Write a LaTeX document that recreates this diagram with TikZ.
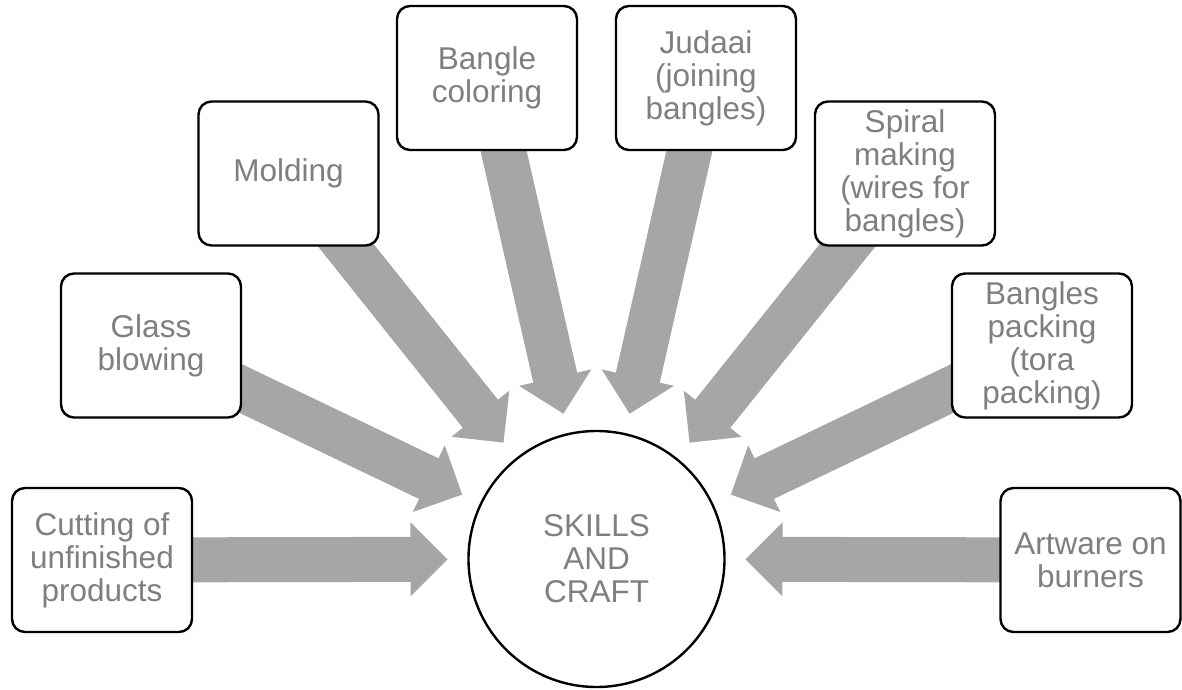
\documentclass[tikz,border=0pt]{standalone}
\usepackage{fontspec}
\setmainfont{Liberation Sans}
\usetikzlibrary{calc,backgrounds}
\definecolor{labelgray}{HTML}{7F7F7F}
\definecolor{arrowgray}{HTML}{A6A6A6}
\tikzset{
  craftbox/.style={draw=black, line width=2.4pt, fill=white, rounded corners=13pt,
    minimum width=180pt, minimum height=144pt, align=center, inner sep=0pt,
    text=labelgray, font=\fontsize{31.5}{33}\selectfont},
  hubcircle/.style={draw=black, line width=2.4pt, fill=white, circle,
    minimum size=256pt, align=center, inner sep=0pt,
    text=labelgray, font=\fontsize{31.5}{33}\selectfont},
  arrowfill/.style={fill=arrowgray}
}
% wide block arrow from a box towards the hub
\newcommand\feedarrow[1]{%
  \path ($(hub.center)!149pt!(#1.center)$) coordinate (#1-tip)
        ($(hub.center)!186pt!(#1.center)$) coordinate (#1-neck);
  \fill[arrowfill] (#1-tip)
    -- ($(#1-neck)!37pt!90:(#1.center)$)
    -- ($(#1-neck)!22.5pt!90:(#1.center)$)
    -- ($(#1.center)!22.5pt!-90:(hub.center)$)
    -- ($(#1.center)!22.5pt!90:(hub.center)$)
    -- ($(#1-neck)!22.5pt!-90:(#1.center)$)
    -- ($(#1-neck)!37pt!-90:(#1.center)$)
    -- cycle;}
\begin{document}
\begin{tikzpicture}[x=1pt,y=1pt]
\useasboundingbox (0,0) rectangle (1182,689);

\node[hubcircle] (hub) at (596.5,130) {SKILLS\\AND\\CRAFT};

\node[craftbox] (cut)    at (102,129)     {Cutting of\\unfinished\\products};
\node[craftbox] (glass)  at (151,343.5)   {Glass\\blowing};
\node[craftbox] (mold)   at (288.5,515.5) {Molding};
\node[craftbox] (color)  at (487,611)     {Bangle\\coloring};
\node[craftbox] (judaai) at (706,611)     {Judaai\\(joining\\bangles)};
\node[craftbox] (spiral) at (905,515.5)   {Spiral\\making\\(wires for\\bangles)};
\node[craftbox] (pack)   at (1042,343.5)  {Bangles\\packing\\(tora\\packing)};
\node[craftbox] (art)    at (1090.5,129)  {Artware on\\burners};

\begin{scope}[on background layer]
  \feedarrow{cut}
  \feedarrow{glass}
  \feedarrow{mold}
  \feedarrow{color}
  \feedarrow{judaai}
  \feedarrow{spiral}
  \feedarrow{pack}
  \feedarrow{art}
\end{scope}
\end{tikzpicture}
\end{document}
